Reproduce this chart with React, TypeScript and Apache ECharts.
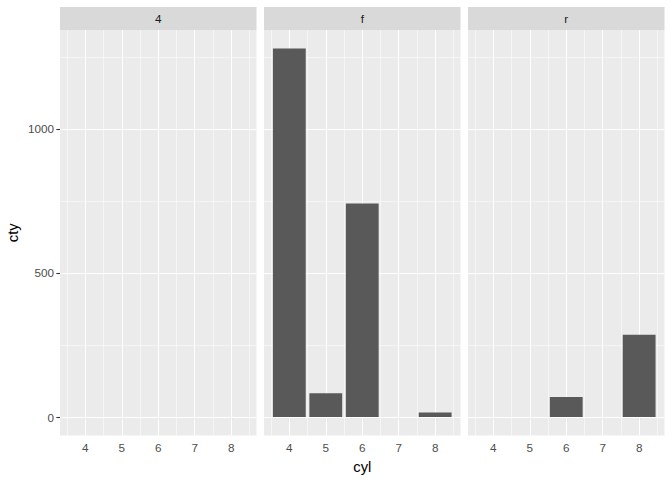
import React, { useEffect, useRef } from "react";
import * as echarts from "echarts";

// Facets (drv) and data: sum of cty by cyl
const facets = ["4", "f", "r"];
const cyl4: number[] = [];
const cty4: number[] = [];
const cylF = [4, 5, 6, 8];
const ctyF = [1279, 83, 741, 16];
const cylR = [6, 8];
const ctyR = [70, 286];

const xBreaks = [4, 5, 6, 7, 8];
const xMinor = [3.5, 4.5, 5.5, 6.5, 7.5, 8.5];
const yBreaks = [0, 500, 1000];
const yMinor = [250, 750, 1250];

const X_MIN = 3.305;
const X_MAX = 8.695;
const Y_MIN = -64;
const Y_MAX = 1343;

const FONT = "Liberation Sans, Arial, sans-serif";

export default function App() {
  const ref = useRef<HTMLDivElement>(null);
  useEffect(() => {
    if (!ref.current) return;
    const chart = echarts.init(ref.current, null, { renderer: "svg" });

    const panelLeft = [60, 264, 468];
    const panelWidth = 196.5;
    const panelTop = 30;
    const panelHeight = 405.5;
    const stripTop = 7;

    const datasets = [
      cyl4.map((c, i) => [c, cty4[i]]),
      cylF.map((c, i) => [c, ctyF[i]]),
      cylR.map((c, i) => [c, ctyR[i]]),
    ];

    const grids = panelLeft.map((l) => ({
      left: l,
      top: panelTop,
      width: panelWidth,
      height: panelHeight,
      show: true,
      backgroundColor: "#EBEBEB",
      borderWidth: 0,
    }));

    const xAxes = facets.map((_, i) => ({
      type: "value",
      gridIndex: i,
      min: X_MIN,
      max: X_MAX,
      axisLine: { show: false },
      splitLine: { show: false },
      axisTick: {
        show: true,
        customValues: xBreaks,
        length: 3.7,
        lineStyle: { color: "#333333", width: 1.07 },
      },
      axisLabel: {
        show: true,
        customValues: xBreaks,
        formatter: (v: number) => String(v),
        color: "#4D4D4D",
        fontSize: 11.7,
        fontFamily: FONT,
        margin: 6,
      },
      name: i === 1 ? "cyl" : "",
      nameLocation: "middle",
      nameGap: 24,
      nameTextStyle: { color: "#000000", fontSize: 14.7, fontFamily: FONT },
    }));

    const yAxes = facets.map((_, i) => ({
      type: "value",
      gridIndex: i,
      min: Y_MIN,
      max: Y_MAX,
      axisLine: { show: false },
      splitLine: { show: false },
      axisTick: {
        show: i === 0,
        customValues: yBreaks,
        length: 3.7,
        lineStyle: { color: "#333333", width: 1.07 },
      },
      axisLabel: {
        show: i === 0,
        customValues: yBreaks,
        formatter: (v: number) => String(v),
        color: "#4D4D4D",
        fontSize: 11.7,
        fontFamily: FONT,
        margin: 6,
      },
      name: i === 0 ? "cty" : "",
      nameLocation: "middle",
      nameGap: 40,
      nameRotate: 90,
      nameTextStyle: { color: "#000000", fontSize: 14.7, fontFamily: FONT },
    }));

    const major = { color: "#FFFFFF", width: 1.07, type: "solid" };
    const minor = { color: "#FFFFFF", width: 0.53, type: "solid" };
    const gridLineData = [
      ...xMinor.map((v) => ({ xAxis: v, lineStyle: minor })),
      ...yMinor.map((v) => ({ yAxis: v, lineStyle: minor })),
      ...xBreaks.map((v) => ({ xAxis: v, lineStyle: major })),
      ...yBreaks.map((v) => ({ yAxis: v, lineStyle: major })),
    ];

    const series: any[] = [];
    facets.forEach((_, i) => {
      series.push({
        type: "line",
        xAxisIndex: i,
        yAxisIndex: i,
        data: [],
        silent: true,
        z: 1,
        markLine: {
          silent: true,
          z: 1,
          symbol: ["none", "none"],
          label: { show: false },
          animation: false,
          data: gridLineData,
        },
      });
    });
    facets.forEach((_, i) => {
      series.push({
        type: "custom",
        xAxisIndex: i,
        yAxisIndex: i,
        z: 10,
        data: datasets[i],
        renderItem: (params: any, api: any) => {
          const x = api.value(0);
          const y = api.value(1);
          const p0 = api.coord([x - 0.45, y]);
          const p1 = api.coord([x + 0.45, 0]);
          return {
            type: "rect",
            shape: {
              x: p0[0],
              y: p0[1],
              width: p1[0] - p0[0],
              height: p1[1] - p0[1],
            },
            style: { fill: "#595959" },
          };
        },
      });
    });

    const graphic: any[] = [];
    facets.forEach((f, i) => {
      graphic.push({
        type: "rect",
        shape: { x: panelLeft[i], y: stripTop, width: panelWidth, height: panelTop - stripTop },
        style: { fill: "#D9D9D9" },
        silent: true,
      });
      graphic.push({
        type: "text",
        x: panelLeft[i] + panelWidth / 2,
        y: (stripTop + panelTop) / 2,
        style: {
          text: f,
          fill: "#1A1A1A",
          fontSize: 11.7,
          fontFamily: FONT,
          align: "center",
          verticalAlign: "middle",
        },
        silent: true,
      });
    });

    chart.setOption({
      animation: false,
      backgroundColor: "#FFFFFF",
      grid: grids,
      xAxis: xAxes,
      yAxis: yAxes,
      series,
      graphic,
    });
    return () => chart.dispose();
  }, []);

  return (
    <div
      ref={ref}
      style={{ position: "fixed", left: 0, top: 0, width: 672, height: 480 }}
    />
  );
}
